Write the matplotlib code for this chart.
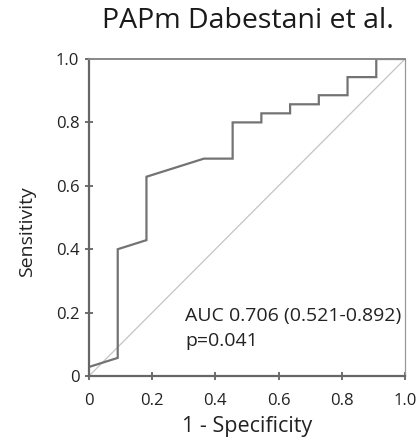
import matplotlib
matplotlib.use("Agg")
import matplotlib.pyplot as plt

plt.rcParams['font.family'] = ['Open Sans', 'DejaVu Sans']

fpr = [0.0, 1/11, 1/11, 2/11, 2/11, 4/11, 5/11, 5/11, 6/11, 6/11, 7/11, 7/11, 8/11, 8/11, 9/11, 9/11, 10/11, 10/11, 1.0]
tpr = [1/35, 2/35, 14/35, 15/35, 22/35, 24/35, 24/35, 28/35, 28/35, 29/35, 29/35, 30/35, 30/35, 31/35, 31/35, 33/35, 33/35, 1.0, 1.0]
xticks = [0, 0.2, 0.4, 0.6, 0.8, 1.0]
xticklabels = ['0', '0.2', '0.4', '0.6', '0.8', '1.0']
yticks = [0, 0.2, 0.4, 0.6, 0.8, 1.0]
yticklabels = ['0', '0.2', '0.4', '0.6', '0.8', '1.0']
title = 'PAPm Dabestani et al.'
auc_line = 'AUC 0.706 (0.521-0.892)'
p_line = 'p=0.041'

fig = plt.figure(figsize=(4.19, 4.38), dpi=100)
ax = fig.add_axes([89/419, 62/438, 316/419, 317/438])

ax.plot([0, 1], [0, 1], color='#c4c4c4', lw=0.9, zorder=1)
ax.plot(fpr, tpr, color='#737373', lw=1.6, zorder=2, solid_joinstyle='miter')

ax.set_xlim(0, 1)
ax.set_ylim(0, 1)
ax.set_xticks(xticks)
ax.set_xticklabels(xticklabels)
ax.set_yticks(yticks)
ax.set_yticklabels(yticklabels)
ax.tick_params(direction='inout', length=6, width=1.2, color='#555555',
               labelsize=12, labelcolor='#222222')
ax.tick_params(axis='x', pad=9)
ax.tick_params(axis='y', pad=4)

for side in ['left', 'bottom']:
    ax.spines[side].set_color('#666666')
    ax.spines[side].set_linewidth(1.6)
ax.spines['top'].set_color('#888888')
ax.spines['top'].set_linewidth(1.4)
ax.spines['right'].set_color('#999999')
ax.spines['right'].set_linewidth(0.9)

ax.set_xlabel('1 - Specificity', fontsize=15.5, color='#222222')
ax.xaxis.label.set_va('baseline')
ax.xaxis.set_label_coords(0.5, (376 - 432) / 317)
ax.set_ylabel('Sensitivity', fontsize=14, color='#222222')
ax.yaxis.label.set_va('baseline')
ax.yaxis.set_label_coords((32 - 89) / 316, (376 - 232) / 317)

fig.text(247.5 / 419, 1 - 28 / 438, title, fontsize=20.5, color='#1a1a1a',
         ha='center', va='baseline')
ax.text((185 - 89) / 316, (376 - 321) / 317, auc_line, fontsize=14, color='#222222',
        ha='left', va='baseline', transform=ax.transAxes)
ax.text((185 - 89) / 316, (376 - 346) / 317, p_line, fontsize=14, color='#222222',
        ha='left', va='baseline', transform=ax.transAxes)

fig.savefig('out.png', dpi=100)
